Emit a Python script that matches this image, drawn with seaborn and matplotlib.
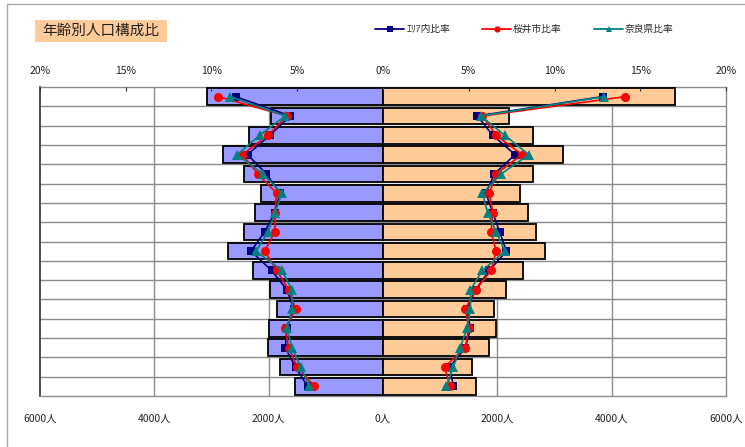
import matplotlib
matplotlib.use("Agg")
import matplotlib.pyplot as plt
import seaborn as sns
import numpy as np
import pandas as pd
from matplotlib.patches import Rectangle
from matplotlib.lines import Line2D

# Age groups, top (oldest) to bottom (youngest)
ages = ["75歳以上", "70～74歳", "65～69歳", "60～64歳", "55～59歳", "50～54歳",
        "45～49歳", "40～44歳", "35～39歳", "30～34歳", "25～29歳", "20～24歳",
        "15～19歳", "10～14歳", "5～9歳", "0～4歳"]

# Population (persons): left side / right side
male = [3070, 1960, 2340, 2800, 2440, 2130, 2240, 2430, 2710, 2280,
        1980, 1860, 1990, 2010, 1810, 1540]
female = [5110, 2210, 2620, 3140, 2620, 2400, 2540, 2680, 2830, 2450,
          2150, 1940, 1980, 1850, 1560, 1620]

# Composition ratios (%), left side / right side
area_m = [8.6, 5.4, 6.6, 7.9, 6.8, 6.0, 6.3, 6.9, 7.7, 6.5, 5.6, 5.2, 5.6, 5.7, 5.1, 4.4]
area_f = [12.8, 5.5, 6.4, 7.7, 6.5, 6.0, 6.4, 6.8, 7.2, 6.2, 5.4, 4.9, 5.1, 4.8, 3.9, 4.1]
sakurai_m = [9.6, 5.6, 6.7, 8.2, 7.3, 6.2, 6.3, 6.3, 6.9, 6.2, 5.5, 5.1, 5.7, 5.5, 5.0, 4.0]
sakurai_f = [14.1, 5.8, 6.6, 8.1, 6.6, 6.2, 6.4, 6.3, 6.6, 6.3, 5.4, 4.8, 5.0, 4.8, 3.6, 3.9]
nara_m = [8.9, 5.7, 7.2, 8.5, 7.0, 5.9, 6.3, 6.7, 7.4, 5.9, 5.3, 5.3, 5.6, 5.3, 4.8, 4.3]
nara_f = [12.9, 5.7, 7.1, 8.5, 6.9, 5.8, 6.1, 6.6, 7.1, 5.8, 5.1, 5.1, 4.9, 4.5, 4.1, 3.7]

series_labels = ["ｴﾘｱ内比率", "桜井市比率", "奈良県比率"]
title = "年齢別人口構成比"

people_ticks = [-6000, -4000, -2000, 0, 2000, 4000, 6000]
pct_ticks = [-20, -15, -10, -5, 0, 5, 10, 15, 20]

sns.set_theme(style="white")
plt.rcParams["font.family"] = ["Noto Sans CJK JP", "DejaVu Sans"]

W, H = 745, 447
fig = plt.figure(figsize=(W / 100, H / 100), dpi=100)
fig.patch.set_facecolor("white")

left, right, top, bottom = 40, 726, 87, 396
ax = fig.add_axes([left / W, 1 - bottom / H, (right - left) / W, (bottom - top) / H])

df = pd.DataFrame({"age": ages,
                   "male": [-v for v in male],
                   "female": female})

n = len(ages)
grid_c = "#8C8C8C"
for xv in [-4000, -2000, 2000, 4000]:
    ax.axvline(xv, color=grid_c, lw=1.0, zorder=0)
for i in range(n - 1):
    ax.axhline(i + 0.5, color=grid_c, lw=1.0, zorder=0)

sns.barplot(data=df, x="male", y="age", orient="h", color="#9999FF",
            saturation=1, edgecolor="black", linewidth=1.3, width=0.86,
            ax=ax, zorder=3)
sns.barplot(data=df, x="female", y="age", orient="h", color="#FFCC99",
            saturation=1, edgecolor="black", linewidth=1.3, width=0.86,
            ax=ax, zorder=3)

ax.set_xlim(-6000, 6000)
ax.set_ylim(n - 0.5, -0.5)
ax.set_xlabel("")
ax.set_ylabel("")
ax.set_yticks([])
ax.set_xticks(people_ticks)
ax.set_xticklabels([f"{abs(v)}人" for v in people_ticks])
ax.tick_params(axis="x", bottom=True, length=0, pad=13, labelsize=7.5,
               labelcolor="#222222")
ax.grid(False)
for side in ["top", "right", "bottom"]:
    ax.spines[side].set_color(grid_c)
    ax.spines[side].set_linewidth(1.0)
ax.spines["left"].set_color("#404040")
ax.spines["left"].set_linewidth(1.3)

# Ratio lines on a shared-y top axis
ax2 = ax.twiny()
ax2.set_xlim(-20, 20)
ax2.set_xticks(pct_ticks)
ax2.set_xticklabels([f"{abs(v)}%" for v in pct_ticks])
ax2.tick_params(axis="x", top=True, direction="in", length=3, width=0.8,
                color="#333333", pad=8, labelsize=7.5, labelcolor="#222222")
ax2.grid(False)
for s in ax2.spines.values():
    s.set_visible(False)

pos = np.arange(n)
styles = [
    (area_m, area_f, "#000080", "s", 5.5),
    (sakurai_m, sakurai_f, "#FF0000", "o", 6.5),
    (nara_m, nara_f, "#008080", "^", 6.5),
]
handles = []
for m_vals, f_vals, col, mk, ms in styles:
    for vals, sign in [(m_vals, -1), (f_vals, 1)]:
        ax2.plot(sign * np.array(vals), pos, color=col, marker=mk,
                 markersize=ms, lw=1.2, zorder=5, markeredgewidth=0)
    handles.append(Line2D([], [], color=col, marker=mk, markersize=4.5,
                          lw=1.3, markeredgewidth=0))

fig.legend(handles, series_labels, loc="center left",
           bbox_to_anchor=(375 / W, 1 - 29 / H), ncol=3, frameon=False,
           fontsize=7, handlelength=3.0, handletextpad=0.2,
           columnspacing=3.3, borderpad=0, borderaxespad=0)

# Title box
fig.add_artist(Rectangle((35 / W, 1 - 42 / H), 132 / W, 22 / H,
                         transform=fig.transFigure, facecolor="#FFCC99",
                         edgecolor="none"))
fig.text(101 / W, 1 - 31 / H, title, ha="center", va="center",
         fontsize=10.5, color="#222222")

# Chart area border
fig.add_artist(Line2D([7 / W, 7 / W], [0, 1 - 4 / H], color="#A8A8A8", lw=1.0,
                      transform=fig.transFigure))
fig.add_artist(Line2D([7 / W, 1], [1 - 4 / H, 1 - 4 / H], color="#A8A8A8",
                      lw=1.0, transform=fig.transFigure))

fig.savefig("out.png", dpi=100)
